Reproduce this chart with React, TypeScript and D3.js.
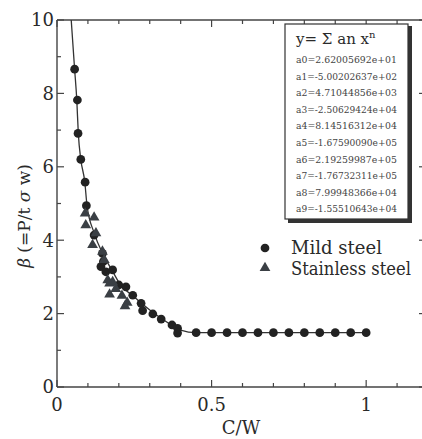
import * as d3 from "d3";

// mild steel test results (C/W, beta)
const mildX = [0.057, 0.066, 0.068, 0.077, 0.091, 0.095, 0.12, 0.142, 0.147, 0.15, 0.158, 0.18, 0.2, 0.223, 0.245, 0.272, 0.277, 0.31, 0.337, 0.372, 0.39, 0.39, 0.45, 0.5, 0.55, 0.6, 0.65, 0.7, 0.75, 0.8, 0.85, 0.9, 0.95, 1.0];
const mildY = [8.66, 7.82, 6.91, 6.2, 5.58, 4.94, 4.14, 3.28, 3.64, 3.42, 3.14, 3.19, 2.78, 2.73, 2.5, 2.28, 2.08, 1.99, 1.85, 1.69, 1.6, 1.47, 1.48, 1.48, 1.48, 1.48, 1.48, 1.48, 1.48, 1.48, 1.48, 1.48, 1.48, 1.48];

// stainless steel test results
const stainX = [0.091, 0.12, 0.093, 0.126, 0.115, 0.147, 0.153, 0.164, 0.17, 0.18, 0.19, 0.17, 0.21, 0.227, 0.22];
const stainY = [4.73, 4.62, 4.41, 4.19, 3.87, 3.69, 3.46, 2.91, 2.82, 2.86, 2.67, 2.52, 2.49, 2.3, 2.2];

// fitted curve
const fitX = [0.046, 0.057, 0.064, 0.069, 0.077, 0.09, 0.097, 0.12, 0.15, 0.18, 0.2, 0.25, 0.3, 0.35, 0.4, 0.45, 1.0];
const fitY = [10, 8.66, 7.82, 6.9, 6.2, 5.58, 4.95, 4.2, 3.6, 3.15, 2.85, 2.45, 2.1, 1.8, 1.55, 1.48, 1.48];

const coefLabels = ["a0", "a1", "a2", "a3", "a4", "a5", "a6", "a7", "a8", "a9"];
const coefValues = ["2.62005692e+01", "-5.00202637e+02", "4.71044856e+03", "-2.50629424e+04", "8.14516312e+04", "-1.67590090e+05", "2.19259987e+05", "-1.76732311e+05", "7.99948366e+04", "-1.55510643e+04"];

const legendNames = ["Mild steel", "Stainless steel"];

const W = 422;
const H = 439;
const font = "DejaVu Serif";
const ink = "#2a2a2a";

export default function App() {
  const x = d3.scaleLinear().domain([0, 1.2]).range([57, 428]);
  const y = d3.scaleLinear().domain([0, 10]).range([387, 20]);

  const line = d3
    .line<number>()
    .x((_, i) => x(fitX[i]))
    .y((_, i) => y(fitY[i]))
    .curve(d3.curveMonotoneX);

  const tri = d3.symbol().type(d3.symbolTriangle).size(50)();
  const dot = d3.symbol().type(d3.symbolCircle).size(60)();

  const xTicks = d3.range(0, 13).map((i) => i / 10);
  const yTicks = d3.range(0, 11);

  const isMajorX = (t: number) => Math.abs(t * 2 - Math.round(t * 2)) < 1e-6;

  return (
    <svg width={W} height={H} fontFamily={font} style={{ position: "absolute", left: 0, top: 0, background: "#fff" }}>
      {/* frame */}
      <g stroke="#444" strokeWidth={1.4} fill="none">
        <line x1={x(0)} x2={x(1.2)} y1={y(0)} y2={y(0)} />
        <line x1={x(0)} x2={x(1.2)} y1={y(10)} y2={y(10)} />
        <line x1={x(0)} x2={x(0)} y1={y(0)} y2={y(10)} />
        <line x1={x(1.2)} x2={x(1.2)} y1={y(0)} y2={y(10)} />
      </g>
      {/* ticks on all four sides, pointing inward */}
      <g stroke="#444" strokeWidth={1.2}>
        {xTicks.map((t) => {
          const len = isMajorX(t) ? 7 : 4;
          return (
            <g key={"xt" + t}>
              <line x1={x(t)} x2={x(t)} y1={y(0)} y2={y(0) - len} />
              <line x1={x(t)} x2={x(t)} y1={y(10)} y2={y(10) + len} />
            </g>
          );
        })}
        {yTicks.map((t) => {
          const len = t % 2 === 0 ? 7 : 4;
          return (
            <g key={"yt" + t}>
              <line x1={x(0)} x2={x(0) + len} y1={y(t)} y2={y(t)} />
              <line x1={x(1.2)} x2={x(1.2) - len - 2} y1={y(t)} y2={y(t)} />
            </g>
          );
        })}
      </g>
      {/* tick labels */}
      <g fontSize={18} fill={ink}>
        {[0, 0.5, 1].map((t) => (
          <text key={"xl" + t} x={x(t)} y={411} textAnchor="middle">
            {String(t)}
          </text>
        ))}
        {yTicks
          .filter((t) => t % 2 === 0)
          .map((t) => (
            <text key={"yl" + t} x={x(0) - 3} y={y(t)} dy="0.35em" textAnchor="end">
              {t}
            </text>
          ))}
        <text x={241} y={434} textAnchor="middle">C/W</text>
        <text transform={`translate(30,${216}) rotate(-90)`} textAnchor="middle" fontSize={17}>
          <tspan fontStyle="italic">β</tspan> (=P/t <tspan fontStyle="italic">σ</tspan> w)
        </text>
      </g>

      {/* fitted curve */}
      <path d={line(fitX) || ""} fill="none" stroke="#333" strokeWidth={1.3} />

      {/* data */}
      <g fill="#222">
        {mildX.map((v, i) => (
          <path key={"m" + i} d={dot || ""} transform={`translate(${x(v)},${y(mildY[i])})`} />
        ))}
      </g>
      <g fill="#3a3f44">
        {stainX.map((v, i) => (
          <path key={"s" + i} d={tri || ""} transform={`translate(${x(v)},${y(stainY[i])})`} />
        ))}
      </g>

      {/* legend */}
      <g fontSize={18} fill={ink}>
        <path d={dot || ""} transform="translate(265,248)" fill="#222" />
        <text x={291} y={254} textLength={91} lengthAdjust="spacingAndGlyphs">{legendNames[0]}</text>
        <path d={tri || ""} transform="translate(265,268)" fill="#3a3f44" />
        <text x={291} y={275} textLength={120} lengthAdjust="spacingAndGlyphs">{legendNames[1]}</text>
      </g>

      {/* equation box */}
      <g>
        <rect x={288} y={26} width={124} height={197} fill="#333" />
        <rect x={285} y={24} width={123} height={195} fill="#fff" stroke="#333" strokeWidth={1.2} />
        <text x={296} y={44} fontSize={15} fill={ink}>
          y= Σ an x<tspan dy={-6} fontSize={10}>n</tspan>
        </text>
        {coefLabels.map((c, i) => (
          <text
            key={c}
            x={296}
            y={63 + i * 16.6}
            fontSize={10}
            fill="#444"
            textLength={101}
            lengthAdjust="spacingAndGlyphs"
          >
            {c}={coefValues[i]}
          </text>
        ))}
      </g>
    </svg>
  );
}
